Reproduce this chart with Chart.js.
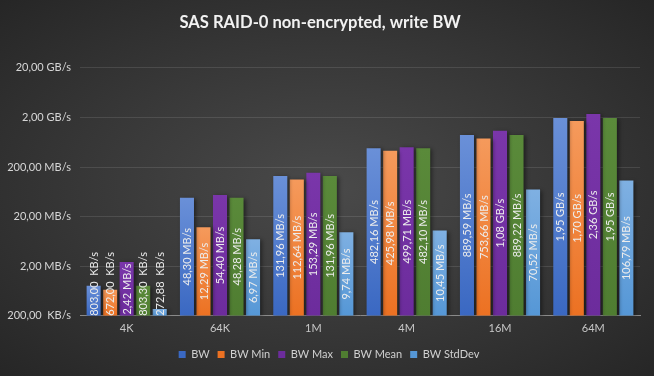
<!DOCTYPE html>
<html>
<head>
<meta charset="utf-8">
<script src="https://cdn.jsdelivr.net/npm/chart.js@4/dist/chart.umd.min.js"></script>
<style>
  html, body { margin: 0; padding: 0; }
  body {
    width: 654px; height: 376px; overflow: hidden;
    background: radial-gradient(ellipse at 50% 50%, #4a4a4a 0%, #3a3a3a 45%, #262626 100%);
  }
  #wrap { position: relative; width: 654px; height: 376px; }
</style>
</head>
<body>
<div id="wrap"><canvas id="myChart" width="654" height="376"></canvas></div>
<script>
// valeurs en KB/s (1 MB = 1000 KB)
const categories = ['4K', '64K', '1M', '4M', '16M', '64M'];
const bw       = [803.00, 48300, 131960, 482160, 889590, 1950000];
const bwMin    = [672.00, 12290, 112640, 425980, 753660, 1700000];
const bwMax    = [2420, 54400, 153290, 499710, 1080000, 2360000];
const bwMean   = [803.30, 48280, 131960, 482100, 889220, 1950000];
const bwStdDev = [272.88, 6970, 9740, 10450, 70520, 106790];
const yTicks   = [200, 2000, 20000, 200000, 2000000, 20000000];

function fmt(v) {
  if (v < 1000) return v.toFixed(2).replace('.', ',') + '  KB/s';
  if (v < 1e6) return (v / 1000).toFixed(2).replace('.', ',') + ' MB/s';
  return (v / 1e6).toFixed(2).replace('.', ',') + ' GB/s';
}

// dégradé vertical par barre
function barFill(top, bottom) {
  return ctx => {
    const chart = ctx.chart;
    if (ctx.type !== 'data' || !chart.chartArea || !chart.scales.y) return bottom;
    const y0 = chart.scales.y.getPixelForValue(ctx.raw);
    const y1 = chart.chartArea.bottom;
    if (!isFinite(y0) || y1 - y0 < 1) return bottom;
    const g = chart.ctx.createLinearGradient(0, y0, 0, y1);
    g.addColorStop(0, top);
    g.addColorStop(1, bottom);
    return g;
  };
}

const barShadow = {
  id: 'barShadow',
  beforeDatasetsDraw(chart) {
    const c = chart.ctx;
    c.save();
    c.shadowColor = 'rgba(0,0,0,0.45)';
    c.shadowBlur = 4;
    c.shadowOffsetX = 2;
    c.shadowOffsetY = 1;
  },
  afterDatasetsDraw(chart) {
    chart.ctx.restore();
  }
};

// légende un peu décalée vers la droite, comme l'original
const legendShift = {
  id: 'legendShift',
  afterLayout(chart) {
    if (chart.legend) {
      chart.legend.left += 9;
      chart.legend.right += 9;
    }
  }
};

const barLabels = {
  id: 'barLabels',
  afterDatasetsDraw(chart) {
    const c = chart.ctx;
    const area = chart.chartArea;
    c.save();
    c.font = '11px Lato';
    c.fillStyle = '#ececec';
    c.textAlign = 'center';
    c.textBaseline = 'middle';
    chart.data.datasets.forEach((ds, i) => {
      const meta = chart.getDatasetMeta(i);
      meta.data.forEach((bar, j) => {
        const text = fmt(ds.data[j]);
        const w = c.measureText(text).width;
        let cy = (bar.y + bar.base) / 2;
        if (cy + w / 2 > area.bottom) cy = area.bottom - w / 2;
        c.save();
        c.translate(bar.x + 0.5, cy);
        c.rotate(-Math.PI / 2);
        c.fillText(text, 0, 0);
        c.restore();
      });
    });
    c.restore();
  }
};

const ctx = document.getElementById('myChart').getContext('2d');

new Chart(ctx, {
  type: 'bar',
  data: {
    labels: categories,
    datasets: [
      { label: 'BW',        data: bw,       backgroundColor: barFill('#6a90d8', '#3a68c2') },
      { label: 'BW Min',    data: bwMin,    backgroundColor: barFill('#f59a5c', '#ec7122') },
      { label: 'BW Max',    data: bwMax,    backgroundColor: barFill('#7a36aa', '#6c2c9c') },
      { label: 'BW Mean',   data: bwMean,   backgroundColor: barFill('#5a8a3a', '#4f7d31') },
      { label: 'BW StdDev', data: bwStdDev, backgroundColor: barFill('#7fb0e2', '#5597d6') }
    ]
  },
  options: {
    responsive: false,
    animation: false,
    events: [],
    datasets: { bar: { categoryPercentage: 0.885, barPercentage: 0.85 } },
    layout: { padding: { left: 0, right: 14, top: 0, bottom: 6 } },
    plugins: {
      title: {
        display: true,
        text: 'SAS RAID-0 non-encrypted, write BW',
        color: '#f2f2f2',
        font: { family: 'Lato', size: 16.6, weight: 'bold' },
        padding: { top: 13, bottom: 35 }
      },
      legend: {
        position: 'bottom',
        labels: {
          color: '#d0d0d0',
          font: { family: 'Lato', size: 11 },
          boxWidth: 7,
          boxHeight: 7,
          padding: 8
        }
      },
      tooltip: { enabled: false }
    },
    scales: {
      x: {
        grid: { display: false, drawTicks: false },
        border: { color: '#8a8a8a' },
        ticks: { color: '#c8c8c8', font: { family: 'Lato', size: 11 }, padding: 6 }
      },
      y: {
        type: 'logarithmic',
        min: 200,
        max: 20000000,
        afterBuildTicks: axis => { axis.ticks = yTicks.map(v => ({ value: v })); },
        afterFit: scale => { scale.width = 80; },
        grid: { color: 'rgba(255,255,255,0.11)', drawTicks: false },
        border: { display: false },
        ticks: {
          color: '#d6d6d6',
          font: { family: 'Lato', size: 11 },
          padding: 9,
          callback: v => fmt(v)
        }
      }
    }
  },
  plugins: [barShadow, legendShift, barLabels]
});
</script>
</body>
</html>
